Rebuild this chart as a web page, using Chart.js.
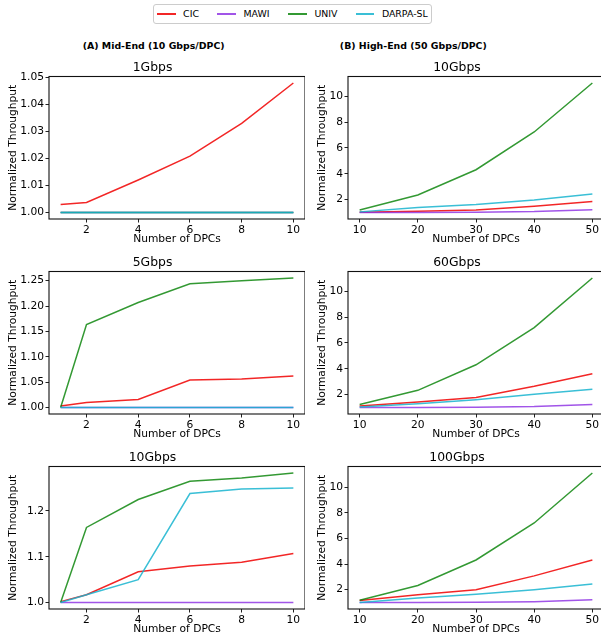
<!DOCTYPE html>
<html><head><meta charset="utf-8">
<script src="https://cdn.jsdelivr.net/npm/chart.js@4.4.1/dist/chart.umd.min.js"></script>
<style>
html,body{margin:0;padding:0;width:601px;height:641px;overflow:hidden;background:#fff;font-family:'DejaVu Sans',sans-serif;}
.leg{position:absolute;left:153px;top:4px;width:277px;height:18px;border:1px solid #cccccc;border-radius:3px;background:#fff;}
.li{position:absolute;height:1.5px;top:13px;}
.lt{position:absolute;top:7.5px;font-size:9.4px;line-height:11px;color:#000;white-space:nowrap;}
.sup{position:absolute;font-weight:bold;font-size:9.4px;line-height:12px;color:#000;white-space:nowrap;text-align:center;width:220px;top:40px;}
</style></head><body>
<div class="leg"></div>
<div id="legend"></div>
<div class="sup" style="left:43.7px">(A) Mid-End (10 Gbps/DPC)</div>
<div class="sup" style="left:303.3px">(B) High-End (50 Gbps/DPC)</div>
<script>
// ---------- data ----------
const seriesNames = ['CIC', 'MAWI', 'UNIV', 'DARPA-SL'];
const seriesColors = ['rgba(240,0,0,0.85)', 'rgba(138,43,226,0.8)', 'rgba(0,128,0,0.8)', 'rgba(23,180,207,0.85)'];

const xLeft = [1, 2, 4, 6, 8, 10];
const xRight = [10, 20, 30, 40, 50];
const xTicksLeft = [2, 4, 6, 8, 10];
const xTickLabelsLeft = ['2', '4', '6', '8', '10'];
const xTicksRight = [10, 20, 30, 40, 50];
const xTickLabelsRight = ['10', '20', '30', '40', '50'];

// (A) 1Gbps
const cic1   = [1.003, 1.0037, 1.012, 1.0208, 1.0329, 1.0478];
const mawi1  = [1.0, 1.0, 1.0, 1.0, 1.0, 1.0];
const univ1  = [1.0, 1.0, 1.0, 1.0, 1.0, 1.0];
const darpa1 = [1.0, 1.0, 1.0, 1.0, 1.0, 1.0];
const yTicks1 = [1.00, 1.01, 1.02, 1.03, 1.04, 1.05];
const yTickLabels1 = ['1.00', '1.01', '1.02', '1.03', '1.04', '1.05'];

// (A) 5Gbps
const cic2   = [1.003, 1.0098, 1.0157, 1.054, 1.056, 1.062];
const mawi2  = [1.0, 1.0, 1.0, 1.0, 1.0, 1.0];
const univ2  = [1.0, 1.1635, 1.207, 1.244, 1.25, 1.2553];
const darpa2 = [1.0, 1.0, 1.0, 1.0, 1.0, 1.0];
const yTicks2 = [1.00, 1.05, 1.10, 1.15, 1.20, 1.25];
const yTickLabels2 = ['1.00', '1.05', '1.10', '1.15', '1.20', '1.25'];

// (A) 10Gbps
const cic3   = [1.002, 1.017, 1.067, 1.080, 1.088, 1.107];
const mawi3  = [1.0, 1.0, 1.0, 1.0, 1.0, 1.0];
const univ3  = [1.0, 1.164, 1.225, 1.265, 1.272, 1.283];
const darpa3 = [1.0, 1.017, 1.05, 1.238, 1.248, 1.25];
const yTicks3 = [1.0, 1.1, 1.2];
const yTickLabels3 = ['1.0', '1.1', '1.2'];

// (B) 10Gbps
const cic4   = [1.02, 1.1, 1.2, 1.49, 1.85];
const mawi4  = [1.0, 1.0, 1.02, 1.07, 1.22];
const univ4  = [1.2, 2.36, 4.31, 7.23, 11.02];
const darpa4 = [1.05, 1.38, 1.62, 1.97, 2.44];

// (B) 60Gbps
const cic5   = [1.12, 1.43, 1.77, 2.64, 3.62];
const mawi5  = [1.0, 1.0, 1.02, 1.07, 1.23];
const univ5  = [1.23, 2.33, 4.31, 7.19, 11.03];
const darpa5 = [1.04, 1.3, 1.61, 2.02, 2.41];

// (B) 100Gbps
const cic6   = [1.15, 1.61, 2.0, 3.08, 4.32];
const mawi6  = [1.0, 1.0, 1.02, 1.07, 1.22];
const univ6  = [1.17, 2.33, 4.32, 7.21, 11.11];
const darpa6 = [1.0, 1.36, 1.64, 2.0, 2.44];

const yTicksRight = [2, 4, 6, 8, 10];
const yTickLabelsRight = ['2', '4', '6', '8', '10'];

// ---------- legend (HTML) ----------
const legLines = [157, 217.4, 288.3, 355.9];
const legTexts = [183.1, 243.4, 314.4, 381.9];
const legEl = document.getElementById('legend');
seriesNames.forEach((n, i) => {
  const l = document.createElement('div');
  l.className = 'li';
  l.style.left = legLines[i] + 'px';
  l.style.width = '18.6px';
  l.style.background = seriesColors[i];
  legEl.appendChild(l);
  const t = document.createElement('div');
  t.className = 'lt';
  t.style.left = legTexts[i] + 'px';
  t.textContent = n;
  legEl.appendChild(t);
});

// ---------- charts ----------
Chart.defaults.font.family = "'DejaVu Sans', sans-serif";
const frame = {
  id: 'frame',
  afterDatasetsDraw(chart) {
    const {ctx, chartArea: a} = chart;
    ctx.save();
    ctx.strokeStyle = '#111';
    ctx.lineWidth = 1.1;
    ctx.strokeRect(a.left, a.top, a.right - a.left, a.bottom - a.top);
    ctx.restore();
  }
};

const panels = [
  {title: '1Gbps', x: xLeft, xt: xTicksLeft, xtl: xTickLabelsLeft, series: [cic1, mawi1, univ1, darpa1], yt: yTicks1, ytl: yTickLabels1, left: 0, top: 60, w: 305, yw: 49, tp: 7.3},
  {title: '5Gbps', x: xLeft, xt: xTicksLeft, xtl: xTickLabelsLeft, series: [cic2, mawi2, univ2, darpa2], yt: yTicks2, ytl: yTickLabels2, left: 0, top: 255, w: 305, yw: 49, tp: 7.3},
  {title: '10Gbps', x: xLeft, xt: xTicksLeft, xtl: xTickLabelsLeft, series: [cic3, mawi3, univ3, darpa3], yt: yTicks3, ytl: yTickLabels3, left: 0, top: 450, w: 305, yw: 49, tp: 7.3},
  {title: '10Gbps', x: xRight, xt: xTicksRight, xtl: xTickLabelsRight, series: [cic4, mawi4, univ4, darpa4], yt: yTicksRight, ytl: yTickLabelsRight, left: 310, top: 60, w: 294, yw: 38, tp: 5.6},
  {title: '60Gbps', x: xRight, xt: xTicksRight, xtl: xTickLabelsRight, series: [cic5, mawi5, univ5, darpa5], yt: yTicksRight, ytl: yTickLabelsRight, left: 310, top: 255, w: 294, yw: 38, tp: 5.6},
  {title: '100Gbps', x: xRight, xt: xTicksRight, xtl: xTickLabelsRight, series: [cic6, mawi6, univ6, darpa6], yt: yTicksRight, ytl: yTickLabelsRight, left: 310, top: 450, w: 294, yw: 38, tp: 5.6}
];

const H = 189;
panels.forEach(p => {
  const div = document.createElement('div');
  div.style.cssText = `position:absolute;left:${p.left}px;top:${p.top}px;width:${p.w}px;height:${H}px;`;
  const cv = document.createElement('canvas');
  cv.width = p.w; cv.height = H;
  cv.style.width = p.w + 'px'; cv.style.height = H + 'px';
  div.appendChild(cv);
  document.body.appendChild(div);

  const all = p.series.flat();
  const lo = Math.min(...all), hi = Math.max(...all), m = (hi - lo) * 0.05;
  const xlo = Math.min(...p.x), xhi = Math.max(...p.x), xm = (xhi - xlo) * 0.05;

  new Chart(cv, {
    type: 'line',
    data: {
      datasets: p.series.map((ys, i) => ({
        label: seriesNames[i],
        data: p.x.map((x, j) => ({x: x, y: ys[j]})),
        borderColor: seriesColors[i],
        backgroundColor: seriesColors[i],
        borderWidth: 1.5,
        pointRadius: 0,
        tension: 0,
        fill: false,
        order: 3 - i
      }))
    },
    options: {
      responsive: false,
      animation: false,
      devicePixelRatio: 1,
      layout: {padding: 0},
      plugins: {
        legend: {display: false},
        tooltip: {enabled: false},
        title: {display: true, text: p.title, color: '#000', font: {size: 12.4, weight: 'normal', lineHeight: 1.25}, padding: {top: 0, bottom: 1}}
      },
      scales: {
        x: {
          type: 'linear', min: xlo - xm, max: xhi + xm,
          afterBuildTicks: a => { a.ticks = p.xt.map(v => ({value: v})); },
          afterFit: s => { s.height = 30; },
          ticks: {color: '#000', font: {size: 10.7, lineHeight: 1}, padding: 2, maxRotation: 0, autoSkip: false, callback: (v, i) => p.xtl[i]},
          grid: {display: true, drawOnChartArea: false, drawTicks: true, tickLength: 3.5, color: '#222', lineWidth: 1},
          border: {display: false},
          title: {display: true, text: 'Number of DPCs', color: '#000', font: {size: 10.7, lineHeight: 1.2}, padding: {top: 0, bottom: 3.2}}
        },
        y: {
          type: 'linear', min: lo - m, max: hi + m,
          afterBuildTicks: a => { a.ticks = p.yt.map(v => ({value: v})); },
          afterFit: s => { s.width = p.yw; },
          ticks: {color: '#000', font: {size: 10.7, lineHeight: 1}, padding: 1.5, autoSkip: false, callback: (v, i) => p.ytl[i]},
          grid: {display: true, drawOnChartArea: false, drawTicks: true, tickLength: 3.5, color: '#222', lineWidth: 1},
          border: {display: false},
          title: {display: true, text: 'Normalized Throughput', color: '#000', font: {size: 10.7, lineHeight: 1.2}, padding: {top: p.tp, bottom: 0}}
        }
      }
    },
    plugins: [frame]
  });
});
</script>
</body></html>
